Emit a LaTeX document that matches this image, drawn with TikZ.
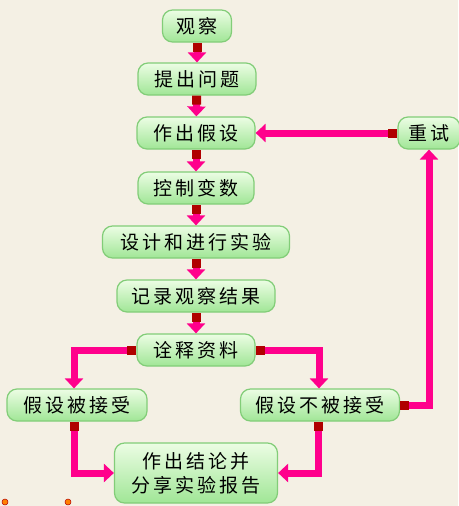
\documentclass[tikz,border=0pt]{standalone}
\usepackage{fontspec}
\newfontfamily\cjk{Noto Sans CJK SC}[LetterSpace=15]
\usetikzlibrary{arrows.meta,positioning,calc}
\definecolor{bgc}{RGB}{244,240,228}
\definecolor{boxtop}{RGB}{236,253,228}
\definecolor{boxbot}{RGB}{160,230,150}
\definecolor{boxline}{RGB}{130,205,120}
\definecolor{flowc}{RGB}{255,0,140}
\definecolor{sqc}{RGB}{176,0,0}
\tikzset{
  stepbox/.style={rounded corners=10pt, top color=boxtop, bottom color=boxbot,
    draw=boxline, line width=1.2pt, minimum height=32pt, inner sep=0pt,
    font=\cjk\fontsize{19}{24}\selectfont, text=black, align=center},
  flow/.style={draw=flowc, line width=7pt,
    {Square[length=9pt,width=9pt,color=sqc]}-{Triangle[length=10pt,width=18pt]}},
  pin/.style={fill=orange, draw=red!70!black, line width=0.5pt}
}
\begin{document}
\begin{tikzpicture}[x=1pt,y=-1pt]
\fill[bgc] (0,0) rectangle (458,506);
\useasboundingbox (0,0) rectangle (458,506);
\node[stepbox, minimum width=69pt] (o) at (197,26) {观察};
\node[stepbox, minimum width=118pt] (t) at (197,79) {提出问题};
\node[stepbox, minimum width=118pt] (h) at (196,133) {作出假设};
\node[stepbox, minimum width=62pt] (r) at (429,133) {重试};
\node[stepbox, minimum width=116pt] (k) at (196,188) {控制变数};
\node[stepbox, minimum width=187pt] (d) at (196,242) {设计和进行实验};
\node[stepbox, minimum width=158pt] (j) at (196,296) {记录观察结果};
\node[stepbox, minimum width=118pt] (c) at (196,350) {诠释资料};
\node[stepbox, minimum width=140pt] (a) at (77,405) {假设被接受};
\node[stepbox, minimum width=159pt] (n) at (320,405) {假设不被接受};
\node[stepbox, minimum width=163pt, minimum height=60pt] (f) at (196,473) {作出结论并\\分享实验报告};
\draw[flow] (o) -- (t);
\draw[flow] (t) -- (h);
\draw[flow] (h) -- (k);
\draw[flow] (k) -- (d);
\draw[flow] (d) -- (j);
\draw[flow] (j) -- (c);
\draw[flow] (r.west) -- (h.east);
\draw[flow] (c.west) -| ($(a.north)+(-3,0)$);
\draw[flow] (c.east) -| ($(n.north)+(-1,0)$);
\draw[flow] ($(a.south)+(-3,0)$) |- (f.west);
\draw[flow] ($(n.south)+(-2,0)$) |- (f.east);
\draw[flow] (n.east) -| (r.south);
\fill[pin] (5,502) circle (3pt);
\fill[pin] (68,502) circle (3pt);
\end{tikzpicture}
\end{document}
